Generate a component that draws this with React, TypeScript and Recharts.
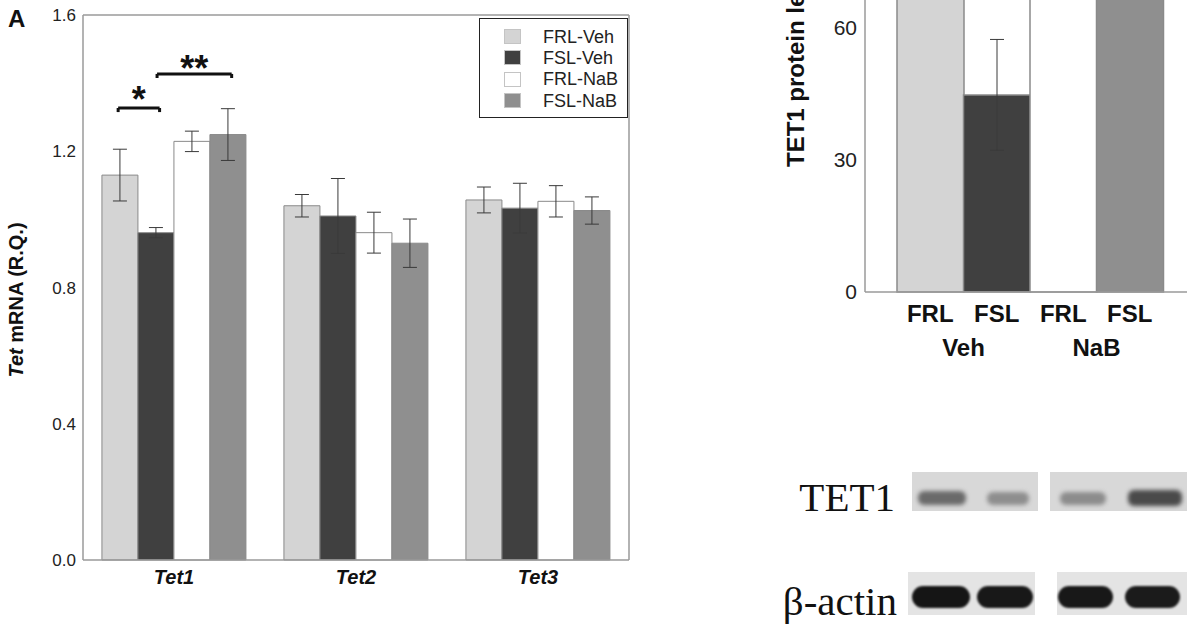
import React from 'react';
import { BarChart, Bar, XAxis, YAxis, ErrorBar, Legend, ReferenceLine, ReferenceDot, Cell } from 'recharts';

const FONT = '"Liberation Sans", Arial, Helvetica, sans-serif';
const SERIF = '"Liberation Serif", "Times New Roman", serif';

// ---------- Panel A data ----------
const genes = ['Tet1', 'Tet2', 'Tet3'];
const groupNames = ['FRL-Veh', 'FSL-Veh', 'FRL-NaB', 'FSL-NaB'];
const groupKeys = ['frlVeh', 'fslVeh', 'frlNaB', 'fslNaB'];
const groupColors = ['#d4d4d4', '#404040', '#ffffff', '#8f8f8f'];
const frlVeh = [1.13, 1.04, 1.057];
const frlVehErr = [0.076, 0.033, 0.038];
const fslVeh = [0.961, 1.01, 1.033];
const fslVehErr = [0.015, 0.11, 0.073];
const frlNaB = [1.229, 0.961, 1.053];
const frlNaBErr = [0.03, 0.06, 0.046];
const fslNaB = [1.249, 0.93, 1.026];
const fslNaBErr = [0.076, 0.071, 0.04];
const mrnaTicks = [0, 0.4, 0.8, 1.2, 1.6];
const boundaryTicks = [1, 2];
// significance brackets (in bar-index units within the Tet1 group)
const brackets = [
  { gene: 0, from: -0.05, to: 1.1, y: 1.327, starY: 1.371, label: '*' },
  { gene: 0, from: 1.03, to: 3.1, y: 1.427, starY: 1.462, label: '**' },
];

// ---------- Panel B data ----------
const proteinLabels = ['FRL', 'FSL', 'FRL', 'FSL'];
const proteinTreat = ['Veh', 'Veh', 'NaB', 'NaB'];
const proteinValues = [100, 44.8, 88, 104];
const proteinErr = [9, 12.6, 10, 11];
const proteinTicks = [0, 30, 60];

const mrnaData = genes.map((g, i) => ({
  gene: g,
  pos: i + 0.5,
  frlVeh: frlVeh[i], frlVehErr: frlVehErr[i],
  fslVeh: fslVeh[i], fslVehErr: fslVehErr[i],
  frlNaB: frlNaB[i], frlNaBErr: frlNaBErr[i],
  fslNaB: fslNaB[i], fslNaBErr: fslNaBErr[i],
}));

const proteinData = proteinLabels.map((l, i) => ({
  label: l,
  treat: proteinTreat[i],
  value: proteinValues[i],
  err: proteinErr[i],
}));

const GAP_FRAC = 0.104;
const BAR_FRAC = (1 - 2 * GAP_FRAC) / groupKeys.length;
const barPos = (gene: number, b: number) => gene + GAP_FRAC + (b + 0.5) * BAR_FRAC;

const FRAME = '#9a9a9a';

function GeneTick(props: any) {
  const { x, y, payload } = props;
  return (
    <text x={x} y={y + 24} textAnchor="middle" fontFamily={FONT} fontSize={20}
      fontWeight="bold" fontStyle="italic" fill="#111">{payload.value}</text>
  );
}

function ProteinTick(props: any) {
  const { x, y, payload } = props;
  const idx = payload.index;
  const off = typeof payload.offset === 'number' && payload.offset > 0 ? payload.offset : 33;
  return (
    <g>
      <text x={x} y={y + 30} textAnchor="middle" fontFamily={FONT} fontSize={24}
        fontWeight="bold" fill="#111">{payload.value}</text>
      {idx % 2 === 0 ? (
        <text x={x + off} y={y + 64} textAnchor="middle" fontFamily={FONT} fontSize={24}
          fontWeight="bold" fill="#111">{proteinData[idx].treat}</text>
      ) : null}
    </g>
  );
}

function LegendBox() {
  return (
    <div style={{
      width: 149, height: 100, boxSizing: 'border-box', border: '1.5px solid #222',
      background: '#fff', paddingTop: 7, fontFamily: FONT,
    }}>
      {groupNames.map((n, i) => (
        <div key={n} style={{ display: 'flex', alignItems: 'center', height: 21.3 }}>
          <div style={{
            marginLeft: 24, width: 17, height: 15, boxSizing: 'border-box',
            background: groupColors[i], border: '1px solid #c4c4c4',
          }} />
          <div style={{ marginLeft: 22, fontSize: 18, color: '#222', lineHeight: '18px' }}>{n}</div>
        </div>
      ))}
    </div>
  );
}

function Star(props: any) {
  const { cx, cy, label } = props;
  return (
    <text x={cx} y={cy} dy="0.53em" textAnchor="middle" fontFamily={FONT}
      fontSize={36} fontWeight="bold" fill="#111">{label}</text>
  );
}

const blotBox = (left: number, top: number, w: number, h: number, bg: string) => (
  <div style={{ position: 'absolute', left, top, width: w, height: h, background: bg, filter: 'blur(0.6px)' }} />
);
const blotBand = (cx: number, cy: number, w: number, h: number, color: string, radius: number, blur: number) => (
  <div style={{
    position: 'absolute', left: cx - w / 2, top: cy - h / 2, width: w, height: h,
    background: color, borderRadius: radius, filter: `blur(${blur}px)`,
  }} />
);

export default function App() {
  return (
    <div style={{ position: 'absolute', left: 0, top: 0, width: 1187, height: 627, overflow: 'hidden', background: '#fff', fontFamily: FONT }}>
      <div style={{ position: 'absolute', left: 8, top: 7, fontSize: 24, fontWeight: 'bold', lineHeight: '24px', color: '#111' }}>A</div>

      {/* Panel A */}
      <div style={{ position: 'absolute', left: 0, top: 0 }}>
        <BarChart width={640} height={627} data={mrnaData}
          margin={{ top: 15, right: 11, bottom: 27, left: 0 }}
          barCategoryGap={`${GAP_FRAC * 100}%`} barGap={0}>
          <XAxis xAxisId="cat" dataKey="gene" height={40} tickSize={0} tickMargin={0}
            axisLine={{ stroke: FRAME, strokeWidth: 1.5 }} tickLine={false} tick={<GeneTick />} />
          <XAxis xAxisId="num" dataKey="pos" type="number" domain={[0, genes.length]} ticks={boundaryTicks} orientation="top" mirror
            tick={false} tickSize={8} axisLine={{ stroke: FRAME, strokeWidth: 1.5 }}
            tickLine={{ stroke: FRAME, strokeWidth: 1.5 }} allowDataOverflow />
          <XAxis xAxisId="numb" dataKey="pos" type="number" domain={[0, genes.length]} ticks={boundaryTicks} orientation="bottom" mirror
            tick={false} tickSize={8} axisLine={false}
            tickLine={{ stroke: FRAME, strokeWidth: 1.5 }} allowDataOverflow />
          <YAxis yAxisId={0} domain={[0, 1.6]} ticks={mrnaTicks} width={83} tickSize={0} tickMargin={7}
            tickFormatter={(v: number) => v.toFixed(1)}
            axisLine={{ stroke: FRAME, strokeWidth: 1.5 }} tickLine={false}
            tick={{ fontSize: 17, fill: '#222', fontFamily: FONT }}
            label={{
              content: () => (
                <text transform="translate(16, 300) rotate(-90)" textAnchor="middle" dominantBaseline="central"
                  fontFamily={FONT} fontSize={20} fontWeight="bold" fill="#111">
                  <tspan fontStyle="italic">Tet</tspan>
                  <tspan> mRNA (R.Q.)</tspan>
                </text>
              ),
            }} />
          <YAxis yAxisId="lm" domain={[0, 1.6]} ticks={mrnaTicks} mirror tick={false} tickSize={9}
            axisLine={false} tickLine={{ stroke: FRAME, strokeWidth: 1.5 }} allowDataOverflow />
          <YAxis yAxisId="rm" orientation="right" domain={[0, 1.6]} ticks={mrnaTicks} mirror tick={false} tickSize={9}
            axisLine={{ stroke: FRAME, strokeWidth: 1.5 }} tickLine={{ stroke: FRAME, strokeWidth: 1.5 }} allowDataOverflow />
          {groupKeys.map((k, i) => (
            <Bar key={k} xAxisId="cat" yAxisId={0} dataKey={k} name={groupNames[i]} fill={groupColors[i]}
              stroke="#8a8a8a" strokeWidth={1} isAnimationActive={false}>
              <ErrorBar dataKey={`${k}Err`} width={7} stroke="#3a3a3a" strokeWidth={1} direction="y" />
            </Bar>
          ))}
          {brackets.map((b, i) => {
            const x1 = barPos(b.gene, b.from);
            const x2 = barPos(b.gene, b.to);
            const drop = 0.012;
            return [
              <ReferenceLine key={`h${i}`} xAxisId="num" yAxisId={0} segment={[{ x: x1, y: b.y }, { x: x2, y: b.y }]}
                stroke="#111" strokeWidth={3} ifOverflow="visible" />,
              <ReferenceLine key={`l${i}`} xAxisId="num" yAxisId={0} segment={[{ x: x1, y: b.y }, { x: x1, y: b.y - drop }]}
                stroke="#111" strokeWidth={3} ifOverflow="visible" />,
              <ReferenceLine key={`r${i}`} xAxisId="num" yAxisId={0} segment={[{ x: x2, y: b.y }, { x: x2, y: b.y - drop }]}
                stroke="#111" strokeWidth={3} ifOverflow="visible" />,
              <ReferenceDot key={`s${i}`} xAxisId="num" yAxisId={0} x={(x1 + x2) / 2} y={b.starY} r={0}
                ifOverflow="visible" shape={(p: any) => <Star {...p} label={b.label} />} />,
            ];
          })}
          <Legend layout="horizontal" verticalAlign="middle" align="center"
            wrapperStyle={{ position: 'absolute', left: 479, top: 18, width: 149, height: 100 }}
            content={() => <LegendBox />} />
        </BarChart>
      </div>

      {/* Panel B (cropped chart) */}
      <div style={{ position: 'absolute', left: 700, top: -250 }}>
        <BarChart width={500} height={632} data={proteinData}
          margin={{ top: 14, right: 5, bottom: 10, left: 0 }} barCategoryGap={0} barGap={0}>
          <XAxis xAxisId="p" dataKey="label" height={80} padding={{ left: 32, right: 32 }}
            tickSize={0} tickMargin={0} axisLine={{ stroke: FRAME, strokeWidth: 1.5 }} tickLine={false}
            tick={<ProteinTick />} />
          <YAxis yAxisId={0} domain={[0, 120]} ticks={proteinTicks} width={165} tickSize={0} tickMargin={8}
            axisLine={{ stroke: FRAME, strokeWidth: 1.5 }} tickLine={false}
            tick={{ fontSize: 21, fill: '#222', fontFamily: FONT }}
            label={{
              content: (p: any) => {
                const vb = p.viewBox || { x: 0, y: 14, width: 165, height: 528 };
                const tx = vb.x + 95;
                const ty = vb.y + vb.height - 125;
                return (
                  <text transform={`translate(${tx}, ${ty}) rotate(-90)`} textAnchor="start" dominantBaseline="central"
                    fontFamily={FONT} fontSize={24} fontWeight="bold" fill="#111">TET1 protein levels (%)</text>
                );
              },
            }} />
          <YAxis yAxisId="plm" domain={[0, 120]} ticks={proteinTicks} mirror tick={false} tickSize={10}
            axisLine={false} tickLine={{ stroke: FRAME, strokeWidth: 1.5 }} allowDataOverflow />
          <YAxis yAxisId="prm" orientation="right" domain={[0, 120]} ticks={proteinTicks} mirror tick={false} tickSize={10}
            axisLine={{ stroke: FRAME, strokeWidth: 1.5 }} tickLine={{ stroke: FRAME, strokeWidth: 1.5 }} allowDataOverflow />
          <Bar xAxisId="p" yAxisId={0} dataKey="value" stroke="#8a8a8a" strokeWidth={1.5} isAnimationActive={false}>
            {proteinData.map((d, i) => <Cell key={i} fill={groupColors[i]} />)}
            <ErrorBar dataKey="err" width={7} stroke="#3a3a3a" strokeWidth={1} direction="y" />
          </Bar>
        </BarChart>
      </div>

      {/* Western blot */}
      <div style={{ position: 'absolute', right: 292, top: 477, fontFamily: SERIF, fontSize: 41, lineHeight: '41px', color: '#111' }}>TET1</div>
      <div style={{ position: 'absolute', right: 290, top: 581, fontFamily: SERIF, fontSize: 41, lineHeight: '41px', color: '#111' }}>β-actin</div>
      {blotBox(912, 472, 126, 39, '#d8d8d8')}
      {blotBox(1050, 472, 140, 39, '#d8d8d8')}
      {blotBand(942, 498, 48, 14, '#6a6a6a', 6, 2.2)}
      {blotBand(1008, 498, 42, 13, '#8e8e8e', 6, 2.2)}
      {blotBand(1083, 498, 46, 13, '#8c8c8c', 6, 2.2)}
      {blotBand(1155, 498, 54, 16, '#4a4a4a', 6, 2.2)}
      {blotBox(908, 572, 127, 43, '#e4e4e4')}
      {blotBox(1057, 572, 133, 43, '#e4e4e4')}
      {blotBand(941, 597, 58, 22, '#151515', 11, 1.2)}
      {blotBand(1005, 597, 56, 22, '#181818', 11, 1.2)}
      {blotBand(1085, 597, 55, 22, '#181818', 11, 1.2)}
      {blotBand(1152, 597, 55, 22, '#1b1b1b', 11, 1.2)}
    </div>
  );
}
